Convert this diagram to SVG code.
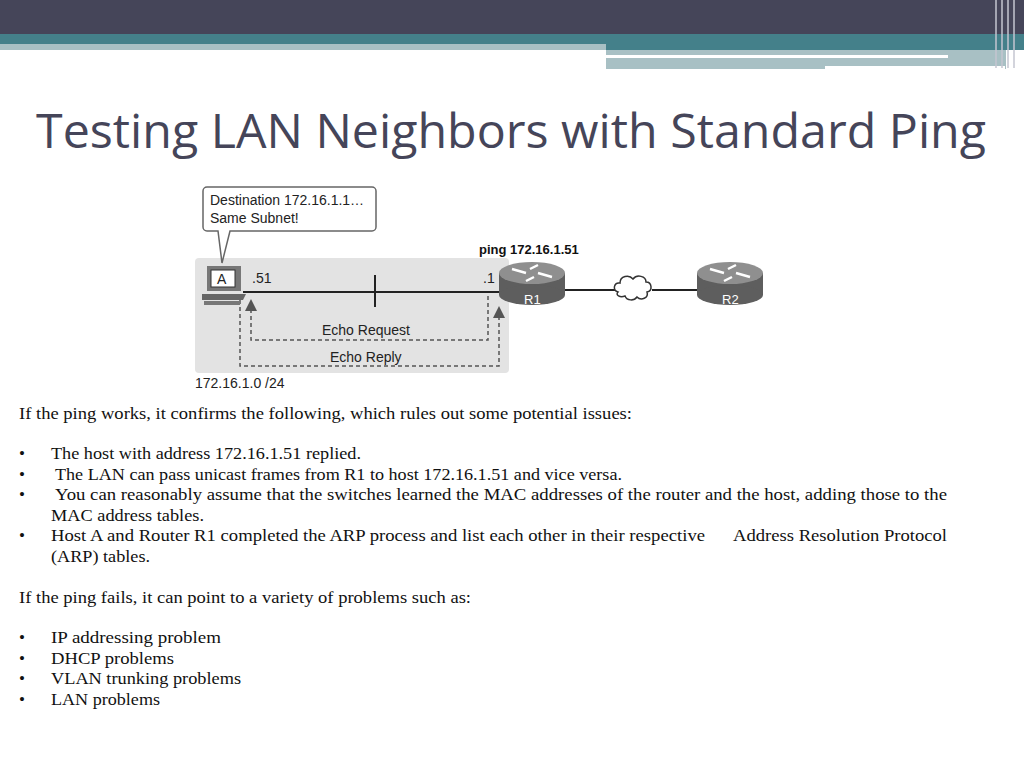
<svg xmlns="http://www.w3.org/2000/svg" width="1024" height="768" viewBox="0 0 1024 768">
<style>
.t{font-family:"Liberation Serif",serif;font-size:17px;fill:#111}
.d{font-family:"Liberation Sans",Arial,sans-serif;font-size:14px;fill:#222}
.dash{fill:none;stroke:#555;stroke-width:1.5;stroke-dasharray:4,3}
.ln{stroke:#222;stroke-width:2;fill:none}
</style>
<defs>
<marker id="ah" markerWidth="8" markerHeight="8" refX="4" refY="4" orient="auto"><path d="M0,0L8,4L0,8z" fill="#555"/></marker>
<g id="router"><rect x="-33" y="-9" width="66" height="22" fill="#5e5e5e"/><ellipse cx="0" cy="13" rx="33" ry="10" fill="#5e5e5e"/><ellipse cx="0" cy="-9" rx="33" ry="11" fill="#8f8f8f"/>
<path d="M-20,-13L-6,-9M20,-5L6,-9M6,-17L-2,-13M-6,-1L2,-5" stroke="#fff" stroke-width="2.5"/></g>
</defs>
<rect width="1024" height="768" fill="#fff"/>
<rect width="1024" height="34" fill="#454559"/>
<rect y="34" width="1024" height="10" fill="#44808a"/>
<rect y="44" width="606" height="6" fill="#a8c0c4"/>
<rect x="606" y="44" width="418" height="6" fill="#44808a"/>
<rect x="606" y="50" width="400" height="19" fill="#a8c0c4"/>
<rect x="606" y="55" width="342" height="3" fill="#fff"/>
<rect x="825" y="66" width="180" height="3" fill="#fff"/>
<g stroke="#c4c6d0" stroke-width="1.5"><line x1="996" y1="0" x2="996" y2="68"/><line x1="1002" y1="0" x2="1002" y2="68"/><line x1="1008" y1="0" x2="1008" y2="68"/><line x1="1014" y1="0" x2="1014" y2="68"/></g>
<text x="36" y="148" font-family="'Open Sans','DejaVu Sans',sans-serif" font-size="47" fill="#454559" textLength="950" lengthAdjust="spacingAndGlyphs">Testing LAN Neighbors with Standard Ping</text>
<g id="subnet"><rect x="195" y="258" width="314" height="115" rx="4" fill="#e3e3e3"/><text class="d" x="195" y="388">172.16.1.0 /24</text></g>
<g id="callout"><path d="M207,187H372a4,4 0 0 1 4,4V227a4,4 0 0 1-4,4H230L222,263L218,231H207a4,4 0 0 1-4-4V191a4,4 0 0 1 4-4z" fill="#fff" stroke="#666" stroke-width="1.5"/>
<text class="d" x="210" y="205">Destination 172.16.1.1…</text><text class="d" x="210" y="223">Same Subnet!</text></g>
<g id="connectors">
<line class="ln" x1="243" y1="292" x2="500" y2="292"/><line class="ln" x1="375" y1="275" x2="375" y2="307"/>
<line class="ln" x1="565" y1="290" x2="615" y2="290"/><line class="ln" x1="652" y1="290" x2="700" y2="290"/>
<path class="dash" d="M488,296V340H251V305" marker-end="url(#ah)"/>
<path class="dash" d="M240,300V366H499V312" marker-end="url(#ah)"/>
<text class="d" x="322" y="335">Echo Request</text><text class="d" x="330" y="362">Echo Reply</text>
<text class="d" x="252" y="283">.51</text><text class="d" x="483" y="283">.1</text>
</g>
<g id="hostA"><rect x="207" y="266" width="34" height="25" fill="#777"/><rect x="211" y="270" width="24" height="17" fill="#fff" stroke="#333"/><text class="d" x="217" y="284">A</text><path d="M202,294H246L243,300H202z" fill="#666"/><rect x="204" y="301" width="36" height="4" fill="#777"/></g>
<g id="R1"><use href="#router" x="532" y="282"/><text x="524" y="304" font-family="Liberation Sans,sans-serif" font-size="13" fill="#fff">R1</text>
<text x="479" y="254" font-family="Liberation Sans,sans-serif" font-size="13" font-weight="bold" fill="#111">ping 172.16.1.51</text></g>
<g id="cloud"><path d="M618,292c-6,-2-4,-10 2,-9c0,-7 9,-9 13,-4c4,-5 13,-3 13,3c6,0 7,9 1,10c2,6-6,9-10,5c-3,4-10,4-12,-1c-5,2-10,-1-7,-4z" fill="#fff" stroke="#333" stroke-width="1.5"/></g>
<g id="R2"><use href="#router" x="730" y="282"/><text x="722" y="304" font-family="Liberation Sans,sans-serif" font-size="13" fill="#fff">R2</text></g>
<g id="text" font-family="Liberation Serif,serif">
<text class="t" x="19" y="419" textLength="613" lengthAdjust="spacingAndGlyphs">If the ping works, it confirms the following, which rules out some potential issues:</text>
<text class="t" x="19" y="459">•</text><text class="t" x="51" y="459" textLength="310" lengthAdjust="spacingAndGlyphs">The host with address 172.16.1.51 replied.</text>
<text class="t" x="19" y="480">•</text><text class="t" x="55" y="480" textLength="567" lengthAdjust="spacingAndGlyphs">The LAN can pass unicast frames from R1 to host 172.16.1.51 and vice versa.</text>
<text class="t" x="19" y="500">•</text><text class="t" x="55" y="500" textLength="892" lengthAdjust="spacingAndGlyphs">You can reasonably assume that the switches learned the MAC addresses of the router and the host, adding those to the</text>
<text class="t" x="51" y="521" textLength="153" lengthAdjust="spacingAndGlyphs">MAC address tables.</text>
<text class="t" x="19" y="541">•</text><text class="t" x="51" y="541" textLength="654" lengthAdjust="spacingAndGlyphs">Host A and Router R1 completed the ARP process and list each other in their respective</text><text class="t" x="733" y="541" textLength="214" lengthAdjust="spacingAndGlyphs">Address Resolution Protocol</text>
<text class="t" x="51" y="562" textLength="99" lengthAdjust="spacingAndGlyphs">(ARP) tables.</text>
<text class="t" x="19" y="603" textLength="452" lengthAdjust="spacingAndGlyphs">If the ping fails, it can point to a variety of problems such as:</text>
<text class="t" x="19" y="643">•</text><text class="t" x="51" y="643" textLength="170" lengthAdjust="spacingAndGlyphs">IP addressing problem</text>
<text class="t" x="19" y="664">•</text><text class="t" x="51" y="664" textLength="123" lengthAdjust="spacingAndGlyphs">DHCP problems</text>
<text class="t" x="19" y="684">•</text><text class="t" x="51" y="684" textLength="190" lengthAdjust="spacingAndGlyphs">VLAN trunking problems</text>
<text class="t" x="19" y="705">•</text><text class="t" x="51" y="705" textLength="109" lengthAdjust="spacingAndGlyphs">LAN problems</text>
</g>
</svg>
